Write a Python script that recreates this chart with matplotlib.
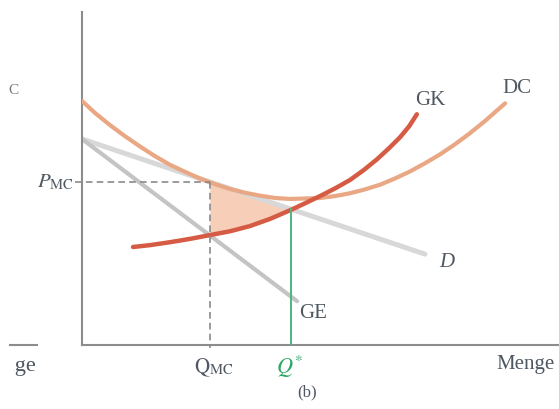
import numpy as np
import matplotlib
matplotlib.use("Agg")
import matplotlib.pyplot as plt
from matplotlib.patches import Rectangle

plt.rcParams['font.family'] = ['Liberation Serif', 'DejaVu Serif']
plt.rcParams['mathtext.fontset'] = 'stix'

# curves (quantity, price)
dc_q = [0.0, 0.27, 0.59, 0.90, 1.22, 1.53, 1.84, 2.16, 2.47, 2.79, 3.10, 3.42, 3.73, 4.05,
        4.36, 4.99, 5.30, 5.62, 5.93, 6.25, 6.56, 6.88, 7.19, 7.51, 7.82, 8.13, 8.45, 8.87]
dc_p = [5.13, 4.88, 4.62, 4.39, 4.17, 3.97, 3.79, 3.64, 3.50, 3.38, 3.28, 3.20, 3.14, 3.09,
        3.07, 3.09, 3.13, 3.19, 3.27, 3.37, 3.50, 3.65, 3.82, 4.01, 4.22, 4.45, 4.71, 5.08]

gk_q = [1.07, 1.43, 1.84, 2.26, 2.68, 3.10, 3.52, 3.94, 4.38, 4.72, 5.03, 5.32, 5.62,
        5.91, 6.18, 6.44, 6.67, 6.86, 7.02]
gk_p = [2.06, 2.10, 2.16, 2.23, 2.31, 2.39, 2.50, 2.65, 2.84, 3.00, 3.15, 3.30, 3.47,
        3.68, 3.90, 4.14, 4.37, 4.60, 4.85]

d_q = [0.0, 7.19]
d_p = [4.33, 1.91]

ge_q = [0.0, 4.51]
ge_p = [4.33, 0.92]

q_mc, p_mc = 2.68, 3.42
q_star, p_star = 4.38, 2.85

text_col = '#4f5862'
axis_col = '#8c8c8c'

fig = plt.figure(figsize=(5.59, 4.09), dpi=100)
ax = fig.add_axes([82/559, 64/409, 477/559, 333/409])
ax.set_xlim(0, 10)
ax.set_ylim(0, 7)
for s in ['top', 'right']:
    ax.spines[s].set_visible(False)
for s in ['left', 'bottom']:
    ax.spines[s].set_color(axis_col)
    ax.spines[s].set_linewidth(1.5)
ax.set_xticks([])
ax.set_yticks([])
ax.patch.set_alpha(0)

# shaded area between demand and GK
qq = np.linspace(q_mc, q_star, 60)
ax.fill_between(qq, np.interp(qq, d_q, d_p), np.interp(qq, gk_q, gk_p),
                color='#f7cfb8', lw=0, zorder=1)

line_kw = dict(solid_capstyle='round', solid_joinstyle='round')
ax.plot(d_q, d_p, color='#d8d8d8', lw=3.6, zorder=2, **line_kw)
ax.plot(ge_q, ge_p, color='#c4c4c4', lw=3.0, zorder=2, **line_kw)
ax.plot(dc_q, dc_p, color='#eaa784', lw=3.0, zorder=3, **line_kw)
ax.plot(gk_q, gk_p, color='#d65b44', lw=3.2, zorder=4, **line_kw)

# dashed guides
ax.plot([-0.15, q_mc], [p_mc, p_mc], color='#8a8a8a', lw=1.2, ls=(0, (4, 2.5)), clip_on=False, zorder=5)
ax.plot([q_mc, q_mc], [p_mc, -0.06], color='#8a8a8a', lw=1.2, ls=(0, (4, 2.5)), clip_on=False, zorder=5)
ax.plot([q_star, q_star], [p_star, 0], color='#4cb87e', lw=1.4, zorder=5)

fs = 15
ax.text(7.30, 5.15, 'GK', color=text_col, fontsize=fs, ha='center', va='center')
ax.text(9.12, 5.40, 'DC', color=text_col, fontsize=fs, ha='center', va='center')
ax.text(7.65, 1.74, 'D', color=text_col, fontsize=fs, style='italic', ha='center', va='center')
ax.text(4.84, 0.67, 'GE', color=text_col, fontsize=fs, ha='center', va='center')
ax.text(-0.17, p_mc, r'$P_{\mathrm{MC}}$', color=text_col, fontsize=fs, ha='right', va='center')
ax.text(q_mc + 0.08, -0.48, r'$\mathrm{Q}_{\mathrm{MC}}$', color=text_col, fontsize=fs, ha='center', va='center')
ax.text(q_star - 0.03, -0.45, r'$Q^{*}$', color='#2fa866', fontsize=16, ha='center', va='center')
ax.text(9.29, -0.42, 'Menge', color=text_col, fontsize=fs, ha='center', va='center')
ax.text(4.72, -1.0, '(b)', color=text_col, fontsize=12, ha='center', va='center')

# fragment of the neighbouring panel on the left
ax2 = fig.add_axes([10/559, 64/409, 27/559, 333/409])
ax2.set_xlim(0, 1)
ax2.set_ylim(0, 1)
for s in ['top', 'right', 'left']:
    ax2.spines[s].set_visible(False)
ax2.spines['bottom'].set_color(axis_col)
ax2.spines['bottom'].set_linewidth(1.5)
ax2.set_xticks([])
ax2.set_yticks([])
ax2.patch.set_alpha(0)
frag = ax2.text(0.96, -0.065, 'Menge', color=text_col, fontsize=16, ha='right', va='center',
                transform=ax2.transAxes)
clip = Rectangle((14/559, 20/409), 60/559, 60/409, transform=fig.transFigure)
frag.set_clip_path(clip)
frag.set_clip_on(True)
fig.text(13/559, 1 - 90/409, 'C', color='#777777', fontsize=11, ha='center', va='center')

fig.savefig('out.png', dpi=100)
